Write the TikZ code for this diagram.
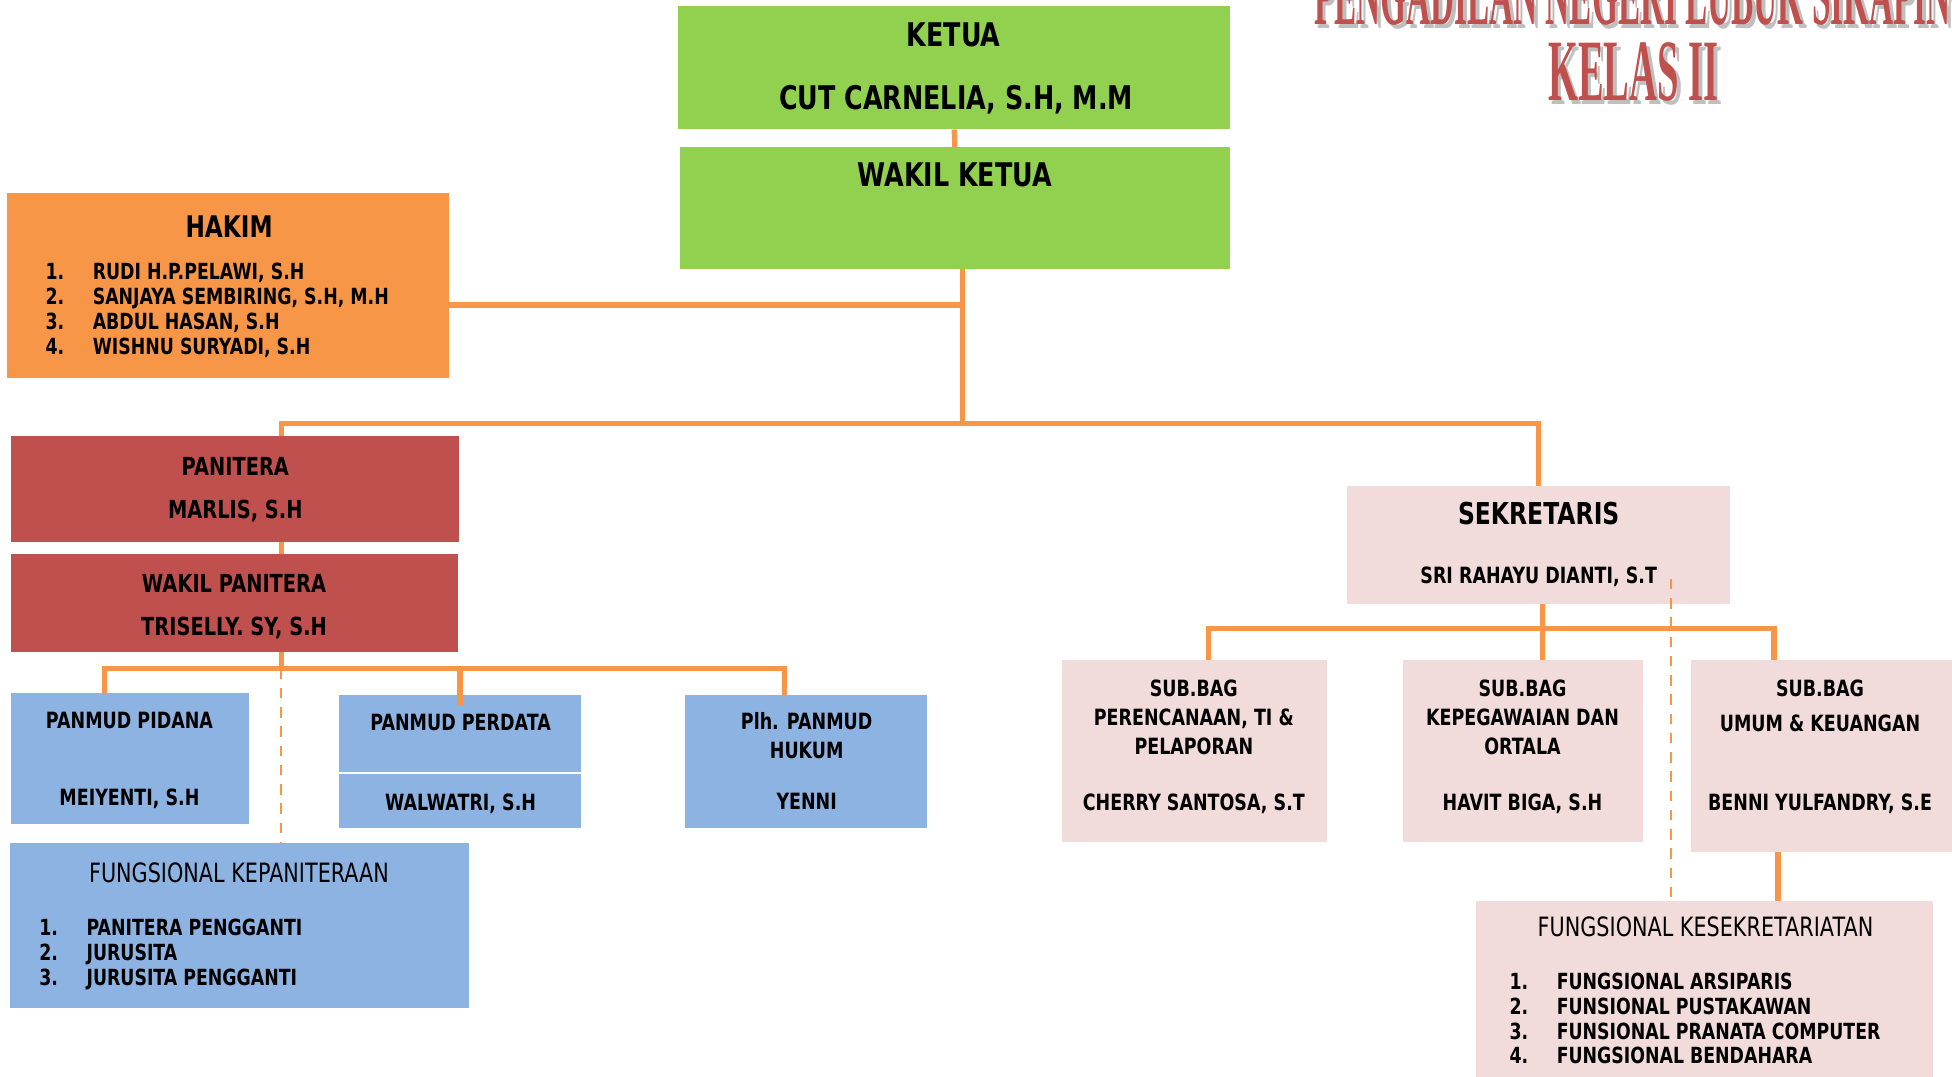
\documentclass[tikz,border=0pt]{standalone}
\usepackage{fontspec}
\setmainfont{DejaVu Sans}[FakeStretch=0.78]
\newfontfamily\titlefont{Liberation Serif}[FakeStretch=0.44]
\newfontfamily\titlefontnarrow{Liberation Serif}[FakeStretch=0.38]
\usetikzlibrary{fit}
\definecolor{ketuagreen}{HTML}{92D050}
\definecolor{hakimorange}{HTML}{F79646}
\definecolor{paniterared}{HTML}{C0504D}
\definecolor{panmudblue}{HTML}{8DB3E2}
\definecolor{sekrpink}{HTML}{F2DCDB}
\definecolor{shadowgray}{HTML}{BFBFBF}
\tikzset{
  box/.style={inner sep=0pt,outer sep=0pt,fill=#1},
  link/.style={draw=hakimorange,line width=1.5pt},
  dashlink/.style={draw=hakimorange,line width=0.6pt,dash pattern=on 3pt off 2.5pt},
  txt/.style={inner sep=0pt,text depth=0pt,align=center},
  bighead/.style={txt,font=\bfseries\fontsize{9.3}{11}\selectfont},
  midhead/.style={txt,font=\bfseries\fontsize{7.1}{9}\selectfont},
  smallhead/.style={txt,font=\bfseries\fontsize{6.4}{8.2}\selectfont},
  fungsihead/.style={txt,font=\fontsize{7.6}{9}\selectfont},
  namelist/.style={inner sep=0pt,text depth=0pt,align=left,anchor=west,font=\bfseries\fontsize{6.35}{7.1}\selectfont},
  titletext/.style={inner sep=0pt,anchor=base,font=\titlefont\bfseries\fontsize{25}{25}\selectfont},
  courttext/.style={inner sep=0pt,anchor=base west,font=\titlefontnarrow\bfseries\fontsize{25}{25}\selectfont}
}
\newcommand\numitem[2]{\makebox[13.5pt][l]{#1.}#2}
\begin{document}
\begin{tikzpicture}[x=0.0125cm,y=-0.0125cm]
\useasboundingbox (0,0) rectangle (1568,865);
\clip (0,0) rectangle (1568,865);

\node[courttext,text=shadowgray] (titleAs) at (1058,23) {PENGADILAN NEGERI LUBUK SIKAPING};
\node[courttext,text=paniterared] (titleA) at (1055,20) {PENGADILAN NEGERI LUBUK SIKAPING};
\node[titletext,text=shadowgray] (titleBs) at (1315,84) {KELAS II};
\node[titletext,text=paniterared] (titleB) at (1312,81) {KELAS II};

\node[box=ketuagreen,fit={(545,5) (988,104)}] (ketua) {};
\node[box=ketuagreen,fit={(546,118) (988,216)}] (wakil) {};
\node[box=hakimorange,fit={(6,155) (361,304)}] (hakim) {};
\node[box=paniterared,fit={(9,350) (369,435)}] (panitera) {};
\node[box=paniterared,fit={(9,445) (368,524)}] (wpanitera) {};
\node[box=panmudblue,fit={(9,557) (200,662)}] (pidana) {};
\node[box=panmudblue,fit={(272,558) (467,620)}] (perdata) {};
\node[box=panmudblue,fit={(272,622) (467,665)}] (perdataB) {};
\node[box=panmudblue,fit={(550,558) (745,665)}] (hukum) {};
\node[box=panmudblue,fit={(8,677) (377,810)}] (fkep) {};
\node[box=sekrpink,fit={(1082,390) (1390,485)}] (sekr) {};
\node[box=sekrpink,fit={(853,530) (1066,676)}] (sub1) {};
\node[box=sekrpink,fit={(1127,530) (1320,676)}] (sub2) {};
\node[box=sekrpink,fit={(1358,530) (1568,684)}] (sub3) {};
\node[box=sekrpink,fit={(1186,724) (1553,875)}] (fkes) {};

\node[bighead] (ketuaA) at (766,28) {KETUA};
\node[bighead] (ketuaB) at (768,78) {CUT CARNELIA, S.H, M.M};
\node[bighead] (wakilA) at (767,140) {WAKIL KETUA};
\node[txt,font=\bfseries\fontsize{8.5}{10}\selectfont] (hakimA) at (184,182) {HAKIM};
\node[namelist] (hakimB) at (36,248) {\numitem{1}{RUDI H.P.PELAWI, S.H}\\\numitem{2}{SANJAYA SEMBIRING, S.H, M.H}\\\numitem{3}{ABDUL HASAN, S.H}\\\numitem{4}{WISHNU SURYADI, S.H}};
\node[midhead] (paniteraA) at (189,375) {PANITERA};
\node[midhead] (paniteraB) at (189,409) {MARLIS, S.H};
\node[midhead] (wpaniteraA) at (188,469) {WAKIL PANITERA};
\node[midhead] (wpaniteraB) at (188,503) {TRISELLY. SY, S.H};
\node[smallhead] (pidanaA) at (104,579) {PANMUD PIDANA};
\node[smallhead] (pidanaB) at (104,640) {MEIYENTI, S.H};
\node[smallhead] (perdataA) at (370,580) {PANMUD PERDATA};
\node[smallhead] (perdataC) at (370,644) {WALWATRI, S.H};
\node[smallhead] (hukumA) at (648,591) {Plh. PANMUD\\HUKUM};
\node[smallhead] (hukumB) at (648,644) {YENNI};
\node[fungsihead] (fkepA) at (192,701) {FUNGSIONAL KEPANITERAAN};
\node[namelist] (fkepB) at (31,765) {\numitem{1}{PANITERA PENGGANTI}\\\numitem{2}{JURUSITA}\\\numitem{3}{JURUSITA PENGGANTI}};
\node[txt,font=\bfseries\fontsize{8.6}{10}\selectfont] (sekrA) at (1236,412) {SEKRETARIS};
\node[smallhead] (sekrB) at (1236,462) {SRI RAHAYU DIANTI, S.T};
\node[smallhead] (sub1A) at (959,576) {SUB.BAG\\PERENCANAAN, TI \&\\PELAPORAN};
\node[smallhead] (sub1B) at (959,644) {CHERRY SANTOSA, S.T};
\node[smallhead] (sub2A) at (1223,576) {SUB.BAG\\KEPEGAWAIAN DAN\\ORTALA};
\node[smallhead] (sub2B) at (1223,644) {HAVIT BIGA, S.H};
\node[smallhead] (sub3A) at (1462,567) {SUB.BAG\\[1.8pt]UMUM \& KEUANGAN};
\node[smallhead] (sub3B) at (1462,644) {BENNI YULFANDRY, S.E};
\node[fungsihead] (fkesA) at (1370,744) {FUNGSIONAL KESEKRETARIATAN};
\node[namelist] (fkesB) at (1212,818) {\numitem{1}{FUNGSIONAL ARSIPARIS}\\\numitem{2}{FUNSIONAL PUSTAKAWAN}\\\numitem{3}{FUNSIONAL PRANATA COMPUTER}\\\numitem{4}{FUNGSIONAL BENDAHARA}};

\coordinate (hub) at (773,340);
\coordinate (hakimjoin) at (773,245);
\coordinate (panjoin) at (226,340);
\coordinate (pbus) at (226,537);
\coordinate (sbus) at (1239,505);
\coordinate (sdash) at (1342,465);
\coordinate (pidanatop) at ([xshift=-7.3pt]pidana.north);
\coordinate (hukumtop) at ([xshift=-6.2pt]hukum.north);
\coordinate (sub1top) at ([xshift=4.1pt]sub1.north);
\coordinate (sub3top) at ([xshift=-13.5pt]sub3.north);
\coordinate (sub3bot) at ([xshift=-12.4pt]sub3.south);

\draw[link] (ketua.south) -- (wakil.north);
\draw[link] (hub |- wakil.south) -- (hub);
\draw[link] (hakim.east |- hakimjoin) -- (hakimjoin);
\draw[link] (panjoin |- panitera.north) -- (panjoin) -- (hub) -| (sekr.north);
\draw[link] (panjoin |- panitera.south) -- (panjoin |- wpanitera.north);
\draw[link] (pbus |- wpanitera.south) -- (pbus);
\draw[link] (pidanatop) |- (hukumtop |- pbus) -- (hukumtop);
\draw[link] (perdata.north |- pbus) -- ([yshift=-3pt]perdata.north);
\draw[dashlink] (pbus) -- (pbus |- fkep.north);
\draw[link] (sbus |- sekr.south) -- (sbus |- sub2.north);
\draw[link] (sub1top) |- (sub3top |- sbus) -- (sub3top);
\draw[link] (sub3bot) -- (sub3bot |- fkes.north);
\draw[dashlink] (sdash) -- (sdash |- fkes.north);
\end{tikzpicture}
\end{document}
